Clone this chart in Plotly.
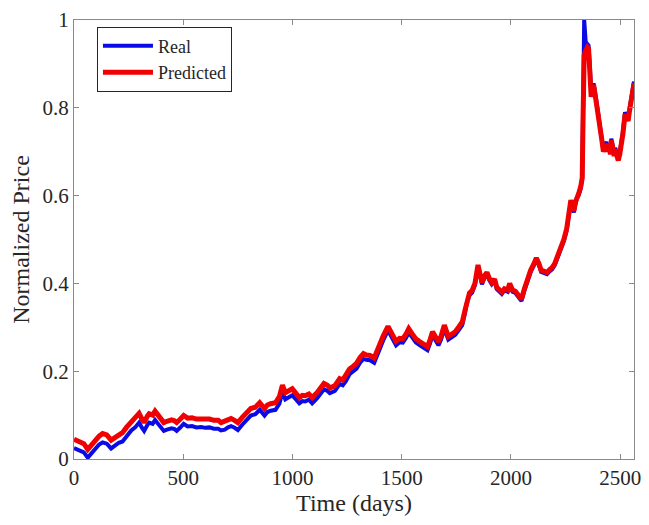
import plotly.graph_objects as go

days = [0, 15, 30, 45, 63, 80, 100, 115, 131, 150, 170, 190, 205, 222, 240, 262, 280, 298, 310, 321,
        335, 344, 360, 371, 385, 400, 411, 425, 447, 460, 470, 485, 502, 520, 540, 560, 583, 600, 620, 640,
        660, 673, 690, 705, 719, 735, 750, 770, 790, 809, 830, 850, 872, 885, 900, 922, 940, 954, 967, 985,
        999, 1015, 1031, 1045, 1058, 1075, 1090, 1112, 1130, 1144, 1160, 1171, 1194, 1205, 1216, 1230, 1245, 1261, 1280, 1293,
        1310, 1325, 1338, 1355, 1374, 1385, 1397, 1415, 1437, 1455, 1474, 1490, 1505, 1520, 1532, 1548, 1564, 1580, 1600, 1618,
        1630, 1641, 1655, 1668, 1680, 1695, 1713, 1730, 1745, 1760, 1777, 1790, 1799, 1810, 1822, 1835, 1849, 1858, 1867, 1880,
        1890, 1900, 1912, 1925, 1935, 1948, 1958, 1970, 1985, 1994, 2007, 2020, 2035, 2048, 2061, 2075, 2090, 2105, 2116, 2128,
        2138, 2150, 2165, 2178, 2188, 2200, 2210, 2220, 2232, 2242, 2255, 2265, 2274, 2280, 2288, 2295, 2301, 2310, 2319, 2326,
        2330, 2335, 2342, 2350, 2355, 2362, 2367, 2372, 2378, 2385, 2391, 2400, 2408, 2414, 2423, 2430, 2437, 2445, 2450, 2455,
        2459, 2466, 2472, 2477, 2485, 2491, 2498, 2504, 2512, 2522, 2530, 2536, 2543, 2550, 2557, 2563]

real = [0.025, 0.022, 0.020, 0.015, 0.003, 0.014, 0.026, 0.033, 0.038, 0.035, 0.024, 0.031, 0.037, 0.040, 0.052, 0.065, 0.072, 0.083, 0.072, 0.064,
        0.077, 0.083, 0.080, 0.089, 0.080, 0.070, 0.064, 0.067, 0.070, 0.068, 0.064, 0.071, 0.080, 0.074, 0.075, 0.072, 0.073, 0.071, 0.072, 0.069,
        0.069, 0.065, 0.067, 0.072, 0.075, 0.071, 0.066, 0.078, 0.088, 0.099, 0.102, 0.112, 0.099, 0.107, 0.110, 0.112, 0.126, 0.152, 0.136, 0.140,
        0.145, 0.136, 0.127, 0.132, 0.131, 0.135, 0.127, 0.138, 0.149, 0.159, 0.155, 0.150, 0.155, 0.163, 0.171, 0.168, 0.178, 0.193, 0.200, 0.206,
        0.220, 0.228, 0.226, 0.225, 0.219, 0.234, 0.244, 0.270, 0.293, 0.276, 0.259, 0.266, 0.265, 0.276, 0.288, 0.277, 0.266, 0.260, 0.254, 0.248,
        0.264, 0.282, 0.270, 0.259, 0.272, 0.297, 0.272, 0.278, 0.283, 0.293, 0.305, 0.333, 0.358, 0.373, 0.379, 0.396, 0.438, 0.421, 0.398, 0.414,
        0.421, 0.408, 0.398, 0.406, 0.387, 0.381, 0.376, 0.384, 0.381, 0.396, 0.381, 0.378, 0.368, 0.360, 0.383, 0.406, 0.426, 0.441, 0.454, 0.441,
        0.426, 0.424, 0.421, 0.428, 0.432, 0.441, 0.454, 0.466, 0.478, 0.496, 0.521, 0.562, 0.586, 0.571, 0.562, 0.581, 0.594, 0.601, 0.616, 0.640,
        0.850, 1.000, 0.950, 0.945, 0.942, 0.885, 0.830, 0.845, 0.856, 0.834, 0.817, 0.784, 0.754, 0.737, 0.704, 0.716, 0.722, 0.704, 0.716, 0.698,
        0.730, 0.712, 0.694, 0.709, 0.694, 0.684, 0.699, 0.714, 0.744, 0.790, 0.782, 0.774, 0.799, 0.817, 0.840, 0.860]

predicted = [0.045, 0.042, 0.040, 0.035, 0.022, 0.033, 0.045, 0.052, 0.058, 0.055, 0.043, 0.050, 0.057, 0.060, 0.072, 0.085, 0.092, 0.104, 0.092, 0.083,
             0.097, 0.103, 0.100, 0.109, 0.100, 0.090, 0.083, 0.086, 0.089, 0.087, 0.083, 0.090, 0.099, 0.093, 0.094, 0.091, 0.092, 0.090, 0.091, 0.088,
             0.088, 0.083, 0.086, 0.090, 0.092, 0.088, 0.083, 0.095, 0.105, 0.115, 0.118, 0.128, 0.115, 0.123, 0.126, 0.128, 0.142, 0.168, 0.151, 0.155,
             0.160, 0.150, 0.140, 0.145, 0.144, 0.148, 0.140, 0.151, 0.162, 0.172, 0.168, 0.162, 0.167, 0.175, 0.183, 0.180, 0.190, 0.205, 0.212, 0.218,
             0.232, 0.240, 0.237, 0.236, 0.230, 0.245, 0.255, 0.280, 0.302, 0.285, 0.268, 0.275, 0.274, 0.285, 0.297, 0.285, 0.274, 0.268, 0.262, 0.256,
             0.272, 0.290, 0.278, 0.267, 0.280, 0.305, 0.279, 0.285, 0.290, 0.300, 0.312, 0.340, 0.364, 0.378, 0.384, 0.400, 0.442, 0.425, 0.402, 0.418,
             0.425, 0.412, 0.402, 0.410, 0.391, 0.385, 0.380, 0.388, 0.385, 0.400, 0.385, 0.382, 0.372, 0.364, 0.387, 0.410, 0.430, 0.445, 0.458, 0.445,
             0.430, 0.428, 0.425, 0.432, 0.436, 0.445, 0.458, 0.470, 0.482, 0.500, 0.525, 0.566, 0.590, 0.575, 0.566, 0.585, 0.598, 0.605, 0.620, 0.640,
             0.780, 0.920, 0.930, 0.938, 0.935, 0.880, 0.825, 0.840, 0.852, 0.830, 0.813, 0.780, 0.750, 0.733, 0.700, 0.712, 0.718, 0.700, 0.712, 0.694,
             0.726, 0.708, 0.690, 0.705, 0.690, 0.680, 0.695, 0.710, 0.740, 0.785, 0.778, 0.770, 0.795, 0.813, 0.835, 0.856]

x_ticks = [0, 500, 1000, 1500, 2000, 2500]
y_ticks = [0, 0.2, 0.4, 0.6, 0.8, 1]
y_tick_labels = ["0", "0.2", "0.4", "0.6", "0.8", "1"]

FONT = "Liberation Serif, Times New Roman, serif"

fig = go.Figure()
fig.add_trace(go.Scatter(x=days, y=real, mode="lines", name="Real",
                         line=dict(color="#0a0ae6", width=4)))
fig.add_trace(go.Scatter(x=days, y=predicted, mode="lines", name="Predicted",
                         line=dict(color="#f00000", width=5)))

axis_common = dict(showline=True, mirror="allticks", linecolor="#8a8a8a", linewidth=1,
                   ticks="inside", ticklen=5, tickcolor="#8a8a8a", showgrid=False,
                   zeroline=False, tickfont=dict(family=FONT, size=21, color="#262626"))

fig.update_layout(
    width=649, height=525,
    margin=dict(l=74, r=8, t=14, b=66),
    paper_bgcolor="white", plot_bgcolor="white",
    font=dict(family=FONT, color="#262626"),
    xaxis=dict(range=[0, 2563], tickvals=x_ticks, ticktext=[str(v) for v in x_ticks],
               title=dict(text="Time (days)", font=dict(family=FONT, size=24, color="#262626"), standoff=4),
               **axis_common),
    yaxis=dict(range=[0, 1], tickvals=y_ticks, ticktext=y_tick_labels,
               title=dict(text="Normalized Price", font=dict(family=FONT, size=24, color="#262626"), standoff=6),
               **axis_common),
    legend=dict(x=0.041, y=0.985, xanchor="left", yanchor="top",
                bgcolor="white", bordercolor="#262626", borderwidth=1,
                font=dict(family=FONT, size=18, color="#262626"),
                tracegroupgap=0, itemwidth=50),
    showlegend=True,
)

fig.write_html("out.html")
